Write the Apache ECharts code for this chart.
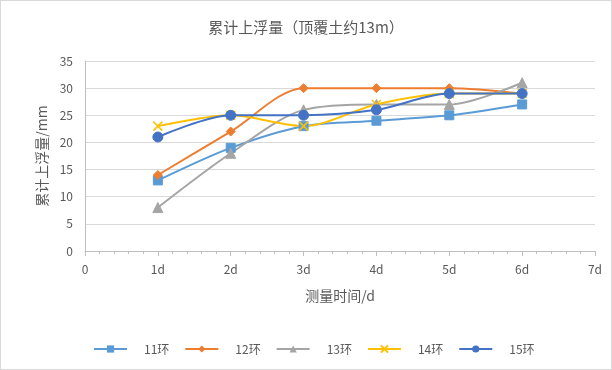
<!DOCTYPE html>
<html>
<head>
<meta charset="utf-8">
<script src="https://cdn.jsdelivr.net/npm/echarts@6/dist/echarts.min.js"></script>
<style>
  html, body { margin: 0; padding: 0; background: #fff; }
  #chart { width: 610px; height: 368px; border: 1px solid #D9D9D9; }
</style>
</head>
<body>
<div id="chart"></div>
<script>
// Measurement days
const days = [1, 2, 3, 4, 5, 6];

// Cumulative uplift (mm) per ring
const ring11 = [13, 19, 23, 24, 25, 27];
const ring12 = [14, 22, 30, 30, 30, 29];
const ring13 = [8, 18, 26, 27, 27, 31];
const ring14 = [23, 25, 23, 27, 29, 29];
const ring15 = [21, 25, 25, 26, 29, 29];

const seriesNames = ['11环', '12环', '13环', '14环', '15环'];
const seriesData = [ring11, ring12, ring13, ring14, ring15];
const colors = ['#5B9BD5', '#ED7D31', '#A5A5A5', '#FFC000', '#4472C4'];
const symbols = ['rect', 'diamond', 'triangle',
  'path://M0,0 L10,10 M10,0 L0,10', 'circle'];
const symbolSizes = [9, 9, 10, 9, 10];

const textColor = '#595959';
const fontFamily = '"Noto Sans CJK SC", "Noto Sans", sans-serif';

const chart = echarts.init(document.getElementById('chart'));

chart.setOption({
  animation: false,
  color: colors,
  textStyle: { fontFamily: fontFamily, color: textColor },
  title: {
    text: '累计上浮量（顶覆土约13m）',
    left: 'center',
    top: 14,
    textStyle: { fontSize: 15, fontWeight: 'normal', color: textColor, fontFamily: fontFamily }
  },
  grid: { left: 84, right: 16, top: 60, bottom: 118 },
  legend: {
    top: 337,
    left: 87,
    itemWidth: 33,
    itemHeight: 9,
    itemGap: 15,
    textStyle: { fontSize: 12, color: textColor, padding: [0, 0, 0, 12] },
    data: seriesNames
  },
  xAxis: {
    type: 'value',
    min: 0,
    max: 7,
    interval: 1,
    name: '测量时间/d',
    nameLocation: 'middle',
    nameGap: 38,
    nameTextStyle: { fontSize: 14, color: textColor },
    axisLine: { show: true, lineStyle: { color: '#BFBFBF' } },
    axisTick: { show: true, length: 5, lineStyle: { color: '#BFBFBF' } },
    minorTick: { show: true, splitNumber: 5, length: 3, lineStyle: { color: '#BFBFBF' } },
    splitLine: { show: false },
    axisLabel: {
      fontSize: 12,
      color: textColor,
      margin: 12,
      formatter: v => (v === 0 ? '0' : v + 'd')
    }
  },
  yAxis: {
    type: 'value',
    min: 0,
    max: 35,
    interval: 5,
    name: '累计上浮量/mm',
    nameLocation: 'middle',
    nameGap: 36,
    nameTextStyle: { fontSize: 14, color: textColor },
    axisLine: { show: true, lineStyle: { color: '#BFBFBF' } },
    axisTick: { show: false },
    splitLine: { show: true, lineStyle: { color: '#D9D9D9' } },
    axisLabel: { fontSize: 12, color: textColor, margin: 12 }
  },
  series: seriesNames.map((name, i) => ({
    name: name,
    type: 'line',
    smooth: 0.3,
    data: days.map((d, j) => [d, seriesData[i][j]]),
    symbol: symbols[i],
    symbolSize: symbolSizes[i],
    lineStyle: { width: 2, color: colors[i] },
    itemStyle: i === 3
      ? { color: colors[i], borderColor: colors[i], borderWidth: 1.5 }
      : { color: colors[i], borderColor: colors[i] }
  }))
});
</script>
</body>
</html>
